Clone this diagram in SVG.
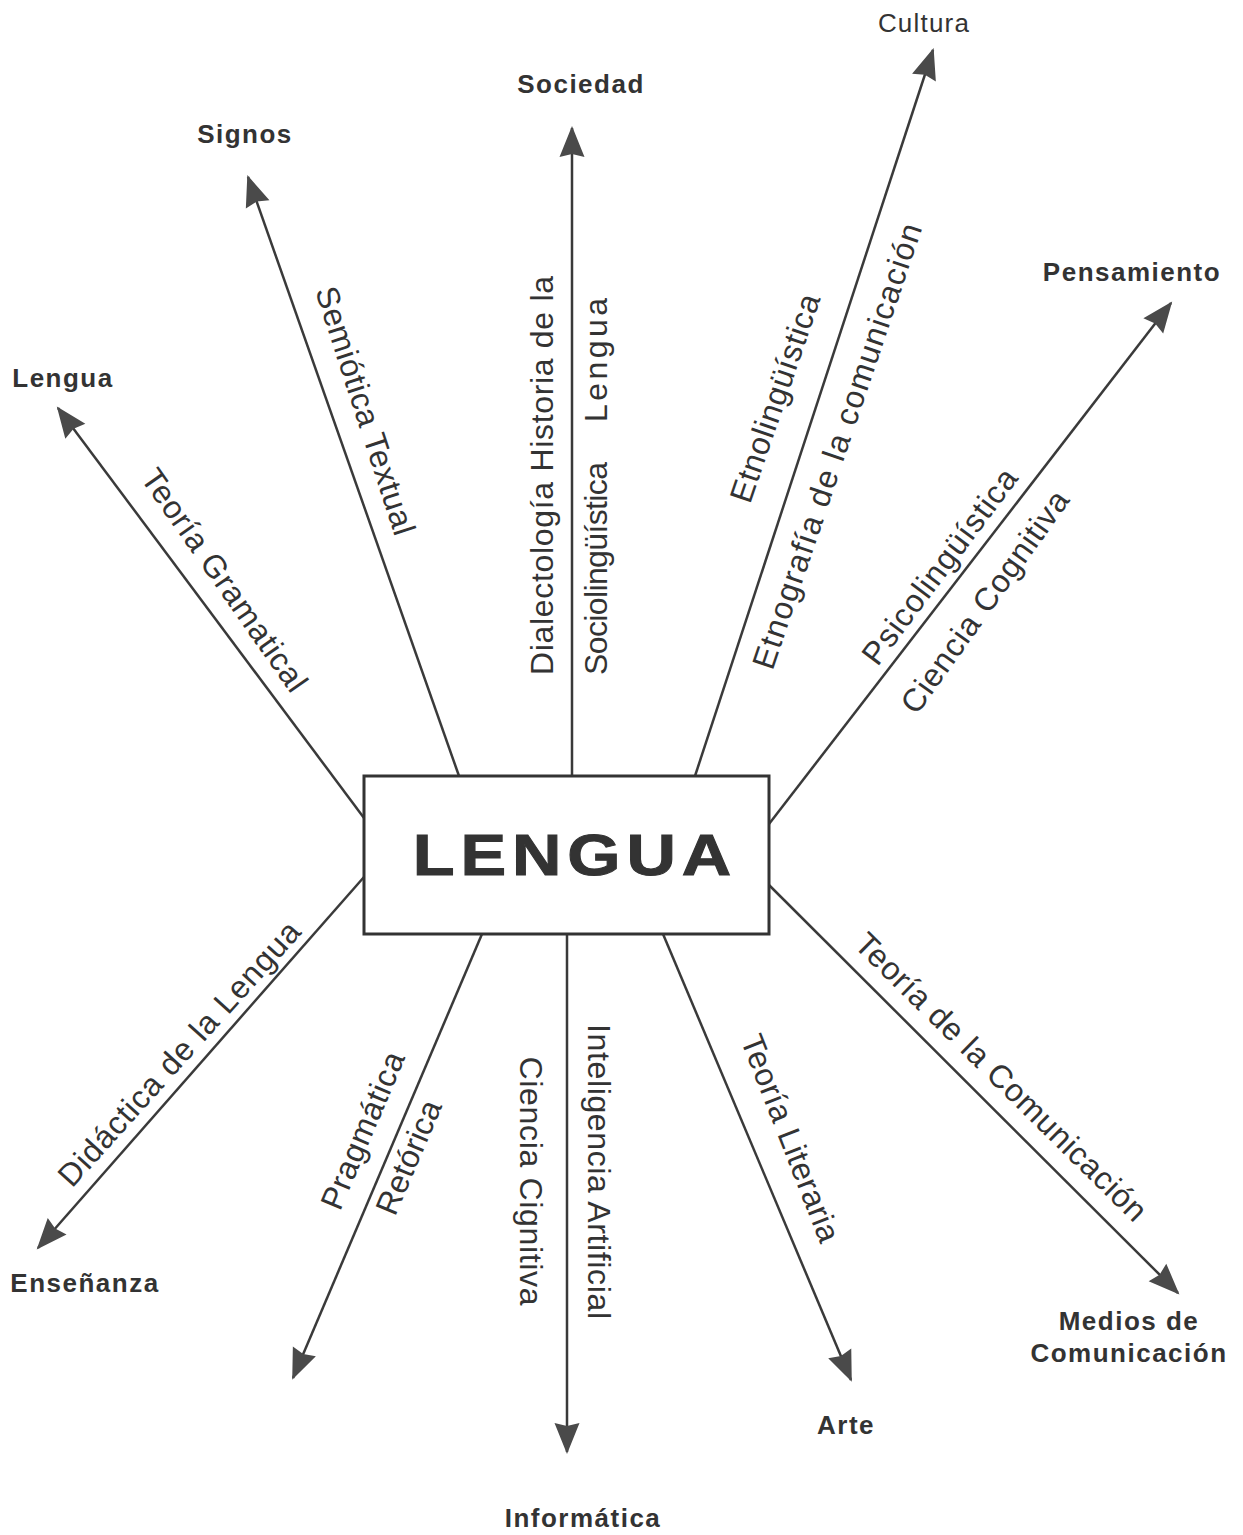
<svg xmlns="http://www.w3.org/2000/svg" width="1243" height="1535" viewBox="0 0 1243 1535">
  <style>
    .lbl { font-family: "Liberation Sans", Arial, sans-serif; font-weight: bold; font-size: 26px; letter-spacing: 1.5px; fill: #333333; text-anchor: middle; }
    .reg { font-family: "Liberation Sans", Arial, sans-serif; font-size: 26px; letter-spacing: 1.2px; fill: #333333; text-anchor: middle; }
    .rot { font-family: "Liberation Sans", Arial, sans-serif; font-size: 32px; fill: #333333; text-anchor: middle; }
    .conn { stroke: #3a3a3a; stroke-width: 2.5; fill: none; marker-end: url(#arr); }
    .box { fill: #ffffff; stroke: #333333; stroke-width: 3; }
    .big { font-family: "Liberation Sans", Arial, sans-serif; font-weight: bold; font-size: 58px; letter-spacing: 5px; fill: #333333; stroke: #333333; stroke-width: 1; text-anchor: middle; }
  </style>
  <defs>
    <marker id="arr" markerUnits="userSpaceOnUse" markerWidth="34" markerHeight="28" refX="29" refY="12.5" orient="auto" overflow="visible">
      <path d="M0,0 L31,12.5 L0,25 L3,12.5 Z" fill="#4a4a4a"/>
    </marker>
  </defs>
  <rect width="1243" height="1535" fill="#ffffff"/>

  <g id="connectors">
    <line class="conn" x1="572" y1="776" x2="572" y2="128"/>
    <line class="conn" x1="459" y1="776" x2="248" y2="177"/>
    <line class="conn" x1="364" y1="818" x2="58" y2="408"/>
    <line class="conn" x1="695" y1="776" x2="933" y2="50"/>
    <line class="conn" x1="769" y1="824" x2="1171" y2="303"/>
    <line class="conn" x1="769" y1="885" x2="1178" y2="1293"/>
    <line class="conn" x1="663" y1="934" x2="851" y2="1380"/>
    <line class="conn" x1="567" y1="934" x2="567" y2="1452"/>
    <line class="conn" x1="482" y1="934" x2="293" y2="1378"/>
    <line class="conn" x1="364" y1="877" x2="38" y2="1248"/>
  </g>

  <g id="edge-labels">
    <text class="rot" transform="translate(355,414) rotate(72)" textLength="259">Semiótica Textual</text>
    <text class="rot" transform="translate(215.5,586.4) rotate(55)" textLength="264">Teoría Gramatical</text>
    <text class="rot" transform="translate(553,475.5) rotate(-90)" textLength="399">Dialectología Historia de la</text>
    <text class="rot" transform="translate(607,568.5) rotate(-90)" textLength="213">Sociolingüística</text>
    <text class="rot" transform="translate(607,360) rotate(-90)" textLength="124">Lengua</text>
    <text class="rot" transform="translate(785.4,401.6) rotate(-71.1)" textLength="218">Etnolingüística</text>
    <text class="rot" transform="translate(847.4,449.5) rotate(-71.3)" textLength="468">Etnografía de la comunicación</text>
    <text class="rot" transform="translate(948.4,572.9) rotate(-53.1)" textLength="236">Psicolingüística</text>
    <text class="rot" transform="translate(993.6,608.1) rotate(-54.5)" textLength="265">Ciencia Cognitiva</text>
    <text class="rot" transform="translate(993.5,1084.8) rotate(44.6)" textLength="395">Teoría de la Comunicación</text>
    <text class="rot" transform="translate(780.3,1142.2) rotate(68.6)" textLength="220">Teoría Literaria</text>
    <text class="rot" transform="translate(588,1171.5) rotate(90)" textLength="295">Inteligencia Artificial</text>
    <text class="rot" transform="translate(519.7,1181) rotate(90)" textLength="249">Ciencia Cignitiva</text>
    <text class="rot" transform="translate(372.7,1134.8) rotate(-67)" textLength="168">Pragmática</text>
    <text class="rot" transform="translate(418.7,1161.5) rotate(-67)" textLength="121">Retórica</text>
    <text class="rot" transform="translate(187.2,1060.9) rotate(-48)" textLength="344">Didáctica de la Lengua</text>
  </g>

  <g id="node-lengua-center">
    <rect class="box" x="364" y="776" width="405" height="158"/>
    <g transform="translate(572,875) scale(1.18,1)">
      <text class="big" x="2.5" y="0">LENGUA</text>
    </g>
  </g>
  <g id="node-sociedad"><text class="lbl" x="581" y="93">Sociedad</text></g>
  <g id="node-signos"><text class="lbl" x="245" y="143">Signos</text></g>
  <g id="node-lengua"><text class="lbl" x="63" y="387">Lengua</text></g>
  <g id="node-cultura"><text class="reg" x="924" y="32">Cultura</text></g>
  <g id="node-pensamiento"><text class="lbl" x="1132" y="281">Pensamiento</text></g>
  <g id="node-medios">
    <text class="lbl" x="1129" y="1330">Medios de</text>
    <text class="lbl" x="1129" y="1362">Comunicación</text>
  </g>
  <g id="node-arte"><text class="lbl" x="846" y="1434">Arte</text></g>
  <g id="node-informatica"><text class="lbl" x="583" y="1527">Informática</text></g>
  <g id="node-ensenanza"><text class="lbl" x="85" y="1292">Enseñanza</text></g>
</svg>
